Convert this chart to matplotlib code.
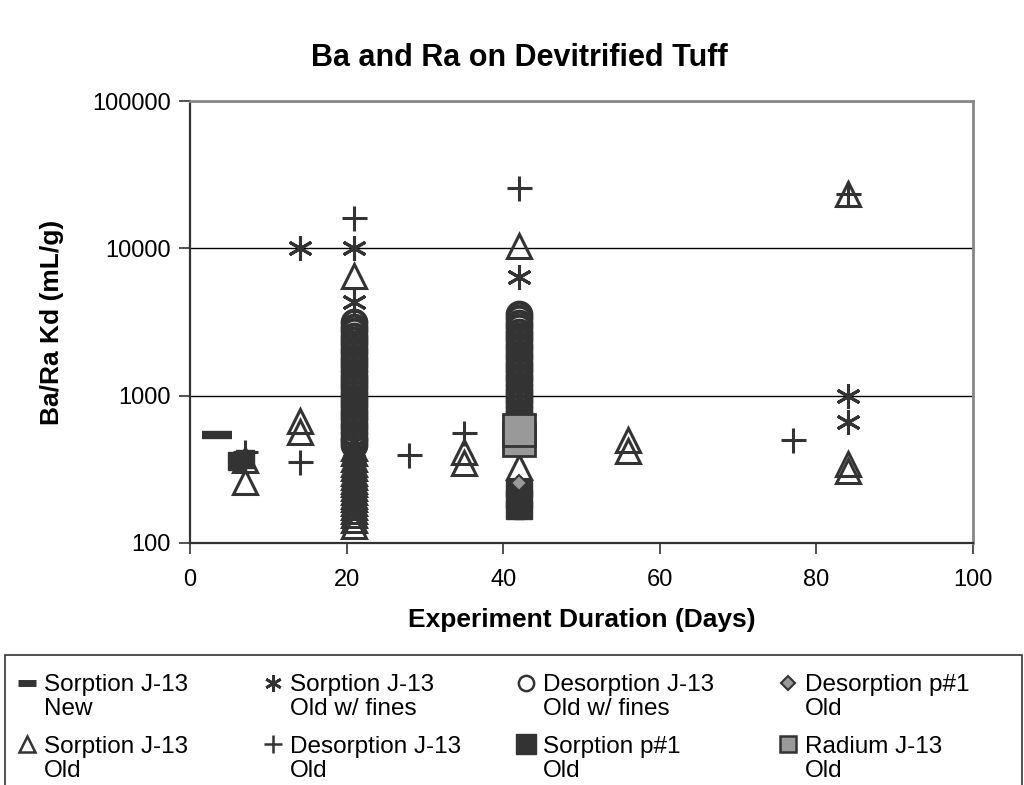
import numpy as np
import matplotlib
matplotlib.use("Agg")
import matplotlib.pyplot as plt
from matplotlib.lines import Line2D
from matplotlib.patches import Rectangle
from matplotlib.legend_handler import HandlerLine2D
from matplotlib.ticker import FixedLocator, FixedFormatter, NullLocator

plt.rcParams['font.family'] = ['Liberation Sans', 'DejaVu Sans']

# Sorption J-13 New
sorpNew_days = [3.5]
sorpNew_kd = [540]

# Sorption J-13 Old (open triangles)
sorpOld_days = [7, 7, 14, 14,
                21, 21, 21, 21, 21, 21, 21, 21, 21, 21, 21, 21, 21, 21, 21, 21, 21, 21, 21, 21,
                35, 35, 42, 42, 56, 56, 84, 84, 84]
sorpOld_kd = [365, 260, 670, 565,
              6500, 440, 410, 370, 345, 325, 300, 280, 265, 250, 235, 222, 210, 200, 188, 175, 165, 155, 143, 130,
              415, 350, 10300, 330, 500, 420, 23500, 345, 310]

# Sorption J-13 Old w/ fines (asterisks)
sorpFines_days = [14, 21, 21, 21, 21, 21, 21, 21, 21, 21, 42, 84, 84]
sorpFines_kd = [10000, 10000, 4300, 360, 330, 290, 260, 230, 215, 185, 6400, 1000, 660]

# Desorption J-13 Old (plus)
desOld_days = [7, 14, 21, 21, 28, 35, 42, 77, 84]
desOld_kd = [415, 355, 16000, 240, 395, 557, 25500, 500, 23500]

# Desorption J-13 Old w/ fines (open circles)
desFines_days = [21] * 29 + [42] * 26
desFines_kd = [3150, 2940, 2740, 2560, 2390, 2230, 2080, 1940, 1810, 1690, 1580, 1470, 1370, 1280, 1200,
               1120, 1040, 970, 910, 850, 790, 740, 690, 640, 600, 560, 520, 490, 460,
               3600, 3350, 3120, 2910, 2720, 2540, 2370, 2210, 2060, 1920, 1790, 1670, 1560, 1460, 1360,
               1270, 1180, 1100, 1030, 960, 900, 840, 780, 730, 680, 640]

# Sorption p#1 Old (filled squares)
sorpP1_days = [6, 7, 41.5, 42.5, 41.5, 42.5, 41.5, 42.5]
sorpP1_kd = [360, 370, 235, 235, 200, 200, 168, 168]

# Desorption p#1 Old (diamond)
desP1_days = [42]
desP1_kd = [255]

# Radium J-13 Old (grey squares)
radium_days = [42, 42]
radium_kd = [500, 585]

dark = '#333333'
grey = '#999999'


# legend markers sit next to the first line of the two-line labels
class FirstLineHandler(HandlerLine2D):
    def create_artists(self, legend, orig_handle, xdescent, ydescent, width, height, fontsize, trans):
        arts = super().create_artists(legend, orig_handle, xdescent, ydescent, width, height, fontsize, trans)
        for a in arts:
            if isinstance(a, Line2D):
                a.set_ydata(np.asarray(a.get_ydata()) + 0.6 * fontsize)
        return arts


fig = plt.figure(figsize=(10.24, 7.85), dpi=100)
ax = fig.add_axes([0.1855, 0.3083, 0.7646, 0.563])

ax.plot(sorpOld_days, sorpOld_kd, linestyle='none', marker='^', markersize=17, mfc='none', mec=dark, mew=2.2)
ax.plot(sorpFines_days, sorpFines_kd, linestyle='none', marker=(6, 2, 0), markersize=18, mec=dark, mew=2.2)
ax.plot(desOld_days, desOld_kd, linestyle='none', marker='+', markersize=18, mec=dark, mew=2.2)
ax.plot(desFines_days, desFines_kd, linestyle='none', marker='o', markersize=17, mfc='none', mec=dark, mew=3)
ax.plot(sorpP1_days, sorpP1_kd, linestyle='none', marker='s', markersize=13, mfc=dark, mec=dark, mew=1)
ax.plot(desP1_days, desP1_kd, linestyle='none', marker='D', markersize=8.5, mfc=grey, mec=dark, mew=1.5)
ax.plot(radium_days, radium_kd, linestyle='none', marker='s', markersize=23, mfc=grey, mec=dark, mew=2)
ax.plot(sorpNew_days, sorpNew_kd, linestyle='none', marker='_', markersize=21, mec=dark, mew=6)

ax.set_yscale('log')
ax.set_xlim(0, 100)
ax.set_ylim(100, 100000)
ax.set_xticks(np.arange(0, 101, 20))
ax.yaxis.set_major_locator(FixedLocator([100, 1000, 10000, 100000]))
ax.yaxis.set_major_formatter(FixedFormatter(['100', '1000', '10000', '100000']))
ax.yaxis.set_minor_locator(NullLocator())
ax.tick_params(axis='both', labelsize=17, length=8, width=1.2, color=dark, direction='out')
ax.tick_params(axis='x', pad=11)
ax.tick_params(axis='y', pad=6)
ax.yaxis.grid(True, color='black', linewidth=1)
ax.set_axisbelow(True)

for side in ['top', 'right']:
    ax.spines[side].set_color('#888888')
    ax.spines[side].set_linewidth(2)
for side in ['left', 'bottom']:
    ax.spines[side].set_color(dark)
    ax.spines[side].set_linewidth(1.6)

ax.set_xlabel('Experiment Duration (Days)', fontsize=19, fontweight='bold', labelpad=12)
ax.set_ylabel('Ba/Ra Kd (mL/g)', fontsize=19, fontweight='bold', labelpad=20)
fig.suptitle('Ba and Ra on Devitrified Tuff', x=0.507, y=0.926, va='center', fontsize=22, fontweight='bold')

# legend: four columns of two entries each, inside one frame
handles = [
    Line2D([], [], linestyle='none', marker='_', markersize=13, mec=dark, mew=5),
    Line2D([], [], linestyle='none', marker='^', markersize=12, mfc='none', mec=dark, mew=1.8),
    Line2D([], [], linestyle='none', marker=(6, 2, 0), markersize=12, mec=dark, mew=2),
    Line2D([], [], linestyle='none', marker='+', markersize=13, mec=dark, mew=1.8),
    Line2D([], [], linestyle='none', marker='o', markersize=11, mfc='none', mec=dark, mew=1.8),
    Line2D([], [], linestyle='none', marker='s', markersize=14, mfc=dark, mec=dark),
    Line2D([], [], linestyle='none', marker='D', markersize=7.5, mfc=grey, mec=dark, mew=1.5),
    Line2D([], [], linestyle='none', marker='s', markersize=12, mfc=grey, mec=dark, mew=1.8),
]
labels = ['Sorption J-13\nNew', 'Sorption J-13\nOld',
          'Sorption J-13\nOld w/ fines', 'Desorption J-13\nOld',
          'Desorption J-13\nOld w/ fines', 'Sorption p#1\nOld',
          'Desorption p#1\nOld', 'Radium J-13\nOld']
col_left = [17, 263, 516, 778]
for i, x0 in enumerate(col_left):
    leg = fig.legend(handles[2 * i:2 * i + 2], labels[2 * i:2 * i + 2], loc='upper left',
                     bbox_to_anchor=(x0 / 1024, 0.141), borderaxespad=0, borderpad=0,
                     frameon=False, fontsize=17.5, handlelength=0.8, handletextpad=0.3,
                     labelspacing=0.65, handler_map={Line2D: FirstLineHandler()})
    for t in leg.get_texts():
        t.set_linespacing(1.1)
fig.patches.append(Rectangle((5 / 1024, -0.02), 1017 / 1024, 0.1856, transform=fig.transFigure,
                             fill=False, edgecolor=dark, linewidth=1.2))

fig.savefig('out.png', dpi=100)
